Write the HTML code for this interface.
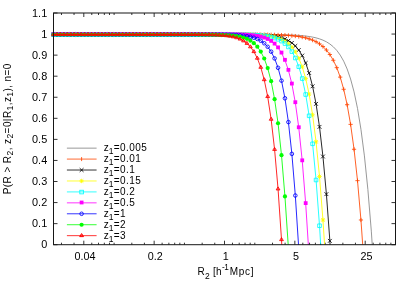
<!DOCTYPE html>
<html><head><meta charset="utf-8"><title>plot</title>
<style>html,body{margin:0;padding:0;background:#fff}svg{display:block}text{font-family:"Liberation Sans",sans-serif;font-size:10px;fill:#000}</style></head><body>
<svg style="will-change:transform" width="415" height="291" viewBox="0 0 415 291">
<rect width="415" height="291" fill="#fff"/>
<path d="M53.5 244.70h4.0M395.5 244.70h-4.0M53.5 223.64h4.0M395.5 223.64h-4.0M53.5 202.57h4.0M395.5 202.57h-4.0M53.5 181.51h4.0M395.5 181.51h-4.0M53.5 160.45h4.0M395.5 160.45h-4.0M53.5 139.38h4.0M395.5 139.38h-4.0M53.5 118.32h4.0M395.5 118.32h-4.0M53.5 97.25h4.0M395.5 97.25h-4.0M53.5 76.19h4.0M395.5 76.19h-4.0M53.5 55.13h4.0M395.5 55.13h-4.0M53.5 34.06h4.0M395.5 34.06h-4.0M53.5 13.00h4.0M395.5 13.00h-4.0M83.80 244.7v-4.0M83.80 13.0v4.0M154.15 244.7v-4.0M154.15 13.0v4.0M224.50 244.7v-4.0M224.50 13.0v4.0M294.85 244.7v-4.0M294.85 13.0v4.0M365.20 244.7v-4.0M365.20 13.0v4.0M61.47 244.7v-2.0M61.47 13.0v2.0M74.04 244.7v-2.0M74.04 13.0v2.0M91.77 244.7v-2.0M91.77 13.0v2.0M98.51 244.7v-2.0M98.51 13.0v2.0M104.34 244.7v-2.0M104.34 13.0v2.0M109.49 244.7v-2.0M109.49 13.0v2.0M114.10 244.7v-2.0M114.10 13.0v2.0M131.82 244.7v-2.0M131.82 13.0v2.0M144.40 244.7v-2.0M144.40 13.0v2.0M162.12 244.7v-2.0M162.12 13.0v2.0M168.86 244.7v-2.0M168.86 13.0v2.0M174.69 244.7v-2.0M174.69 13.0v2.0M179.84 244.7v-2.0M179.84 13.0v2.0M184.45 244.7v-2.0M184.45 13.0v2.0M202.17 244.7v-2.0M202.17 13.0v2.0M214.75 244.7v-2.0M214.75 13.0v2.0M232.47 244.7v-2.0M232.47 13.0v2.0M239.21 244.7v-2.0M239.21 13.0v2.0M245.04 244.7v-2.0M245.04 13.0v2.0M250.19 244.7v-2.0M250.19 13.0v2.0M254.80 244.7v-2.0M254.80 13.0v2.0M272.52 244.7v-2.0M272.52 13.0v2.0M285.10 244.7v-2.0M285.10 13.0v2.0M302.82 244.7v-2.0M302.82 13.0v2.0M309.56 244.7v-2.0M309.56 13.0v2.0M315.40 244.7v-2.0M315.40 13.0v2.0M320.54 244.7v-2.0M320.54 13.0v2.0M325.15 244.7v-2.0M325.15 13.0v2.0M342.87 244.7v-2.0M342.87 13.0v2.0M355.45 244.7v-2.0M355.45 13.0v2.0M373.17 244.7v-2.0M373.17 13.0v2.0M379.91 244.7v-2.0M379.91 13.0v2.0M385.75 244.7v-2.0M385.75 13.0v2.0M390.89 244.7v-2.0M390.89 13.0v2.0" stroke="#111" stroke-width="0.85" fill="none"/>
<text transform="translate(47.2 248.40) scale(1.09 1)" text-anchor="end" font-size="10.4">0</text>
<text transform="translate(47.2 227.34) scale(1.09 1)" text-anchor="end" font-size="10.4">0.1</text>
<text transform="translate(47.2 206.27) scale(1.09 1)" text-anchor="end" font-size="10.4">0.2</text>
<text transform="translate(47.2 185.21) scale(1.09 1)" text-anchor="end" font-size="10.4">0.3</text>
<text transform="translate(47.2 164.15) scale(1.09 1)" text-anchor="end" font-size="10.4">0.4</text>
<text transform="translate(47.2 143.08) scale(1.09 1)" text-anchor="end" font-size="10.4">0.5</text>
<text transform="translate(47.2 122.02) scale(1.09 1)" text-anchor="end" font-size="10.4">0.6</text>
<text transform="translate(47.2 100.95) scale(1.09 1)" text-anchor="end" font-size="10.4">0.7</text>
<text transform="translate(47.2 79.89) scale(1.09 1)" text-anchor="end" font-size="10.4">0.8</text>
<text transform="translate(47.2 58.83) scale(1.09 1)" text-anchor="end" font-size="10.4">0.9</text>
<text transform="translate(47.2 37.76) scale(1.09 1)" text-anchor="end" font-size="10.4">1</text>
<text transform="translate(47.2 16.70) scale(1.09 1)" text-anchor="end" font-size="10.4">1.1</text>
<text transform="translate(85.00 260.1) scale(1.08 1)" text-anchor="middle" font-size="10.4">0.04</text>
<text transform="translate(155.35 260.1) scale(1.08 1)" text-anchor="middle" font-size="10.4">0.2</text>
<text transform="translate(225.70 260.1) scale(1.08 1)" text-anchor="middle" font-size="10.4">1</text>
<text transform="translate(296.05 260.1) scale(1.08 1)" text-anchor="middle" font-size="10.4">5</text>
<text transform="translate(366.40 260.1) scale(1.08 1)" text-anchor="middle" font-size="10.4">25</text>
<text x="197.4" y="275.4" font-size="10.4" letter-spacing="0.3">R<tspan dy="3.7" font-size="8.5">2</tspan><tspan dy="-3.7"> [h</tspan><tspan dy="-5.1" font-size="8.2" letter-spacing="-0.5">-1</tspan><tspan dy="5.1" dx="1.4" letter-spacing="0.7">Mpc]</tspan></text>
<text transform="translate(10.6 194.3) rotate(-90)" font-size="10.4" letter-spacing="0.42">P(R &gt; R<tspan dy="2.8" font-size="8.5">2</tspan><tspan dy="-2.8">, z</tspan><tspan dy="2.8" font-size="8.5">2</tspan><tspan dy="-2.8">=0|R</tspan><tspan dy="2.8" font-size="8.5">1</tspan><tspan dy="-2.8">,z</tspan><tspan dy="2.8" font-size="8.5">1</tspan><tspan dy="-2.8">), n=0</tspan></text>
<clipPath id="c"><rect x="53.5" y="13.0" width="342.0" height="231.7"/></clipPath>
<g stroke-width="0.85" fill="none" stroke-linejoin="round">
<path d="M53.50 34.50L56.95 34.50L60.41 34.50L63.86 34.50L67.32 34.50L70.77 34.50L74.23 34.50L77.68 34.50L81.14 34.50L84.59 34.50L88.05 34.50L91.50 34.50L94.95 34.50L98.41 34.50L101.86 34.50L105.32 34.50L108.77 34.50L112.23 34.50L115.68 34.50L119.14 34.50L122.59 34.50L126.05 34.50L129.50 34.50L132.95 34.50L136.41 34.50L139.86 34.50L143.32 34.50L146.77 34.50L150.23 34.50L153.68 34.50L157.14 34.50L160.59 34.50L164.05 34.50L167.50 34.50L170.95 34.50L174.41 34.50L177.86 34.50L181.32 34.50L184.77 34.50L188.23 34.50L191.68 34.50L195.14 34.50L198.59 34.50L202.05 34.50L205.50 34.50L208.95 34.50L212.41 34.50L215.86 34.50L219.32 34.50L222.77 34.50L226.23 34.50L229.68 34.51L233.14 34.51L236.59 34.51L240.05 34.51L243.50 34.51L246.95 34.52L250.41 34.52L253.86 34.53L257.32 34.54L260.77 34.55L264.23 34.57L267.68 34.59L271.14 34.61L274.59 34.65L278.05 34.69L281.50 34.75L284.95 34.82L288.41 34.92L291.86 35.04L295.32 35.20L298.77 35.41L302.23 35.69L305.68 36.04L309.14 36.50L312.59 37.09L316.05 37.86L319.50 38.86L322.95 40.15L326.41 41.82L329.86 43.99L333.32 46.80L336.77 50.42L340.23 55.12L343.68 61.17L347.14 68.97L350.59 79.01L354.05 91.89L357.50 108.36L360.95 129.34L364.41 155.92L367.86 189.38L371.32 231.14L372.23 244.70" stroke="#8c8c8c" stroke-width="0.9"/>
<path d="M53.50 34.50L56.95 34.50L60.41 34.50L63.86 34.50L67.32 34.50L70.77 34.50L74.23 34.50L77.68 34.50L81.14 34.50L84.59 34.50L88.05 34.50L91.50 34.50L94.95 34.50L98.41 34.50L101.86 34.50L105.32 34.50L108.77 34.50L112.23 34.50L115.68 34.50L119.14 34.50L122.59 34.50L126.05 34.50L129.50 34.50L132.95 34.50L136.41 34.50L139.86 34.50L143.32 34.50L146.77 34.50L150.23 34.50L153.68 34.50L157.14 34.50L160.59 34.50L164.05 34.50L167.50 34.50L170.95 34.50L174.41 34.50L177.86 34.50L181.32 34.50L184.77 34.50L188.23 34.50L191.68 34.50L195.14 34.50L198.59 34.50L202.05 34.50L205.50 34.50L208.95 34.50L212.41 34.50L215.86 34.50L219.32 34.51L222.77 34.51L226.23 34.51L229.68 34.51L233.14 34.52L236.59 34.52L240.05 34.53L243.50 34.53L246.95 34.54L250.41 34.56L253.86 34.57L257.32 34.60L260.77 34.62L264.23 34.66L267.68 34.70L271.14 34.76L274.59 34.84L278.05 34.94L281.50 35.07L284.95 35.23L288.41 35.45L291.86 35.72L295.32 36.07L298.77 36.53L302.23 37.12L305.68 37.88L309.14 38.86L312.59 40.12L316.05 41.75L319.50 43.85L322.95 46.56L326.41 50.04L329.86 54.52L333.32 60.28L336.77 67.67L340.23 77.14L343.68 89.25L347.14 104.71L350.59 124.37L354.05 149.28L357.50 180.67L360.95 219.98L362.70 244.70" stroke="#ff4500" stroke-width="0.85"/>
<path d="M51.40 34.5H55.60M53.5 32.40V36.60" stroke="#ff4500" fill="none"/>
<path d="M54.85 34.5H59.05M56.95 32.40V36.60" stroke="#ff4500" fill="none"/>
<path d="M58.31 34.5H62.51M60.41 32.40V36.60" stroke="#ff4500" fill="none"/>
<path d="M61.76 34.5H65.96M63.86 32.40V36.60" stroke="#ff4500" fill="none"/>
<path d="M65.22 34.5H69.42M67.32 32.40V36.60" stroke="#ff4500" fill="none"/>
<path d="M68.67 34.5H72.87M70.77 32.40V36.60" stroke="#ff4500" fill="none"/>
<path d="M72.13 34.5H76.33M74.23 32.40V36.60" stroke="#ff4500" fill="none"/>
<path d="M75.58 34.5H79.78M77.68 32.40V36.60" stroke="#ff4500" fill="none"/>
<path d="M79.04 34.5H83.24M81.14 32.40V36.60" stroke="#ff4500" fill="none"/>
<path d="M82.49 34.5H86.69M84.59 32.40V36.60" stroke="#ff4500" fill="none"/>
<path d="M85.95 34.5H90.15M88.05 32.40V36.60" stroke="#ff4500" fill="none"/>
<path d="M89.40 34.5H93.60M91.5 32.40V36.60" stroke="#ff4500" fill="none"/>
<path d="M92.85 34.5H97.05M94.95 32.40V36.60" stroke="#ff4500" fill="none"/>
<path d="M96.31 34.5H100.51M98.41 32.40V36.60" stroke="#ff4500" fill="none"/>
<path d="M99.76 34.5H103.96M101.86 32.40V36.60" stroke="#ff4500" fill="none"/>
<path d="M103.22 34.5H107.42M105.32 32.40V36.60" stroke="#ff4500" fill="none"/>
<path d="M106.67 34.5H110.87M108.77 32.40V36.60" stroke="#ff4500" fill="none"/>
<path d="M110.13 34.5H114.33M112.23 32.40V36.60" stroke="#ff4500" fill="none"/>
<path d="M113.58 34.5H117.78M115.68 32.40V36.60" stroke="#ff4500" fill="none"/>
<path d="M117.04 34.5H121.24M119.14 32.40V36.60" stroke="#ff4500" fill="none"/>
<path d="M120.49 34.5H124.69M122.59 32.40V36.60" stroke="#ff4500" fill="none"/>
<path d="M123.95 34.5H128.15M126.05 32.40V36.60" stroke="#ff4500" fill="none"/>
<path d="M127.40 34.5H131.60M129.5 32.40V36.60" stroke="#ff4500" fill="none"/>
<path d="M130.85 34.5H135.05M132.95 32.40V36.60" stroke="#ff4500" fill="none"/>
<path d="M134.31 34.5H138.51M136.41 32.40V36.60" stroke="#ff4500" fill="none"/>
<path d="M137.76 34.5H141.96M139.86 32.40V36.60" stroke="#ff4500" fill="none"/>
<path d="M141.22 34.5H145.42M143.32 32.40V36.60" stroke="#ff4500" fill="none"/>
<path d="M144.67 34.5H148.87M146.77 32.40V36.60" stroke="#ff4500" fill="none"/>
<path d="M148.13 34.5H152.33M150.23 32.40V36.60" stroke="#ff4500" fill="none"/>
<path d="M151.58 34.5H155.78M153.68 32.40V36.60" stroke="#ff4500" fill="none"/>
<path d="M155.04 34.5H159.24M157.14 32.40V36.60" stroke="#ff4500" fill="none"/>
<path d="M158.49 34.5H162.69M160.59 32.40V36.60" stroke="#ff4500" fill="none"/>
<path d="M161.95 34.5H166.15M164.05 32.40V36.60" stroke="#ff4500" fill="none"/>
<path d="M165.40 34.5H169.60M167.5 32.40V36.60" stroke="#ff4500" fill="none"/>
<path d="M168.85 34.5H173.05M170.95 32.40V36.60" stroke="#ff4500" fill="none"/>
<path d="M172.31 34.5H176.51M174.41 32.40V36.60" stroke="#ff4500" fill="none"/>
<path d="M175.76 34.5H179.96M177.86 32.40V36.60" stroke="#ff4500" fill="none"/>
<path d="M179.22 34.5H183.42M181.32 32.40V36.60" stroke="#ff4500" fill="none"/>
<path d="M182.67 34.5H186.87M184.77 32.40V36.60" stroke="#ff4500" fill="none"/>
<path d="M186.13 34.5H190.33M188.23 32.40V36.60" stroke="#ff4500" fill="none"/>
<path d="M189.58 34.5H193.78M191.68 32.40V36.60" stroke="#ff4500" fill="none"/>
<path d="M193.04 34.5H197.24M195.14 32.40V36.60" stroke="#ff4500" fill="none"/>
<path d="M196.49 34.5H200.69M198.59 32.40V36.60" stroke="#ff4500" fill="none"/>
<path d="M199.95 34.5H204.15M202.05 32.40V36.60" stroke="#ff4500" fill="none"/>
<path d="M203.40 34.5H207.60M205.5 32.40V36.60" stroke="#ff4500" fill="none"/>
<path d="M206.85 34.5H211.05M208.95 32.40V36.60" stroke="#ff4500" fill="none"/>
<path d="M210.31 34.5H214.51M212.41 32.40V36.60" stroke="#ff4500" fill="none"/>
<path d="M213.76 34.5H217.96M215.86 32.40V36.60" stroke="#ff4500" fill="none"/>
<path d="M217.22 34.51H221.42M219.32 32.41V36.61" stroke="#ff4500" fill="none"/>
<path d="M220.67 34.51H224.87M222.77 32.41V36.61" stroke="#ff4500" fill="none"/>
<path d="M224.13 34.51H228.33M226.23 32.41V36.61" stroke="#ff4500" fill="none"/>
<path d="M227.58 34.51H231.78M229.68 32.41V36.61" stroke="#ff4500" fill="none"/>
<path d="M231.04 34.52H235.24M233.14 32.42V36.62" stroke="#ff4500" fill="none"/>
<path d="M234.49 34.52H238.69M236.59 32.42V36.62" stroke="#ff4500" fill="none"/>
<path d="M237.95 34.53H242.15M240.05 32.43V36.63" stroke="#ff4500" fill="none"/>
<path d="M241.40 34.53H245.60M243.5 32.43V36.63" stroke="#ff4500" fill="none"/>
<path d="M244.85 34.54H249.05M246.95 32.44V36.64" stroke="#ff4500" fill="none"/>
<path d="M248.31 34.56H252.51M250.41 32.46V36.66" stroke="#ff4500" fill="none"/>
<path d="M251.76 34.57H255.96M253.86 32.47V36.67" stroke="#ff4500" fill="none"/>
<path d="M255.22 34.6H259.42M257.32 32.50V36.70" stroke="#ff4500" fill="none"/>
<path d="M258.67 34.62H262.87M260.77 32.52V36.72" stroke="#ff4500" fill="none"/>
<path d="M262.13 34.66H266.33M264.23 32.56V36.76" stroke="#ff4500" fill="none"/>
<path d="M265.58 34.7H269.78M267.68 32.60V36.80" stroke="#ff4500" fill="none"/>
<path d="M269.04 34.76H273.24M271.14 32.66V36.86" stroke="#ff4500" fill="none"/>
<path d="M272.49 34.84H276.69M274.59 32.74V36.94" stroke="#ff4500" fill="none"/>
<path d="M275.95 34.94H280.15M278.05 32.84V37.04" stroke="#ff4500" fill="none"/>
<path d="M279.40 35.07H283.60M281.5 32.97V37.17" stroke="#ff4500" fill="none"/>
<path d="M282.85 35.23H287.05M284.95 33.13V37.33" stroke="#ff4500" fill="none"/>
<path d="M286.31 35.45H290.51M288.41 33.35V37.55" stroke="#ff4500" fill="none"/>
<path d="M289.76 35.72H293.96M291.86 33.62V37.82" stroke="#ff4500" fill="none"/>
<path d="M293.22 36.07H297.42M295.32 33.97V38.17" stroke="#ff4500" fill="none"/>
<path d="M296.67 36.53H300.87M298.77 34.43V38.63" stroke="#ff4500" fill="none"/>
<path d="M300.13 37.12H304.33M302.23 35.02V39.22" stroke="#ff4500" fill="none"/>
<path d="M303.58 37.88H307.78M305.68 35.78V39.98" stroke="#ff4500" fill="none"/>
<path d="M307.04 38.86H311.24M309.14 36.76V40.96" stroke="#ff4500" fill="none"/>
<path d="M310.49 40.12H314.69M312.59 38.02V42.22" stroke="#ff4500" fill="none"/>
<path d="M313.95 41.75H318.15M316.05 39.65V43.85" stroke="#ff4500" fill="none"/>
<path d="M317.40 43.85H321.60M319.5 41.75V45.95" stroke="#ff4500" fill="none"/>
<path d="M320.85 46.56H325.05M322.95 44.46V48.66" stroke="#ff4500" fill="none"/>
<path d="M324.31 50.04H328.51M326.41 47.94V52.14" stroke="#ff4500" fill="none"/>
<path d="M327.76 54.52H331.96M329.86 52.42V56.62" stroke="#ff4500" fill="none"/>
<path d="M331.22 60.28H335.42M333.32 58.18V62.38" stroke="#ff4500" fill="none"/>
<path d="M334.67 67.67H338.87M336.77 65.57V69.77" stroke="#ff4500" fill="none"/>
<path d="M338.13 77.14H342.33M340.23 75.04V79.24" stroke="#ff4500" fill="none"/>
<path d="M341.58 89.25H345.78M343.68 87.15V91.35" stroke="#ff4500" fill="none"/>
<path d="M345.04 104.71H349.24M347.14 102.61V106.81" stroke="#ff4500" fill="none"/>
<path d="M348.49 124.37H352.69M350.59 122.27V126.47" stroke="#ff4500" fill="none"/>
<path d="M351.95 149.28H356.15M354.05 147.18V151.38" stroke="#ff4500" fill="none"/>
<path d="M355.40 180.67H359.60M357.5 178.57V182.77" stroke="#ff4500" fill="none"/>
<path d="M358.85 219.98H363.05M360.95 217.88V222.08" stroke="#ff4500" fill="none"/>
<path d="M53.50 34.50L56.95 34.50L60.41 34.50L63.86 34.50L67.32 34.50L70.77 34.50L74.23 34.50L77.68 34.50L81.14 34.50L84.59 34.50L88.05 34.50L91.50 34.50L94.95 34.50L98.41 34.50L101.86 34.50L105.32 34.50L108.77 34.50L112.23 34.50L115.68 34.50L119.14 34.50L122.59 34.50L126.05 34.50L129.50 34.50L132.95 34.50L136.41 34.50L139.86 34.50L143.32 34.50L146.77 34.50L150.23 34.50L153.68 34.50L157.14 34.50L160.59 34.50L164.05 34.50L167.50 34.50L170.95 34.50L174.41 34.50L177.86 34.50L181.32 34.50L184.77 34.50L188.23 34.50L191.68 34.50L195.14 34.50L198.59 34.50L202.05 34.50L205.50 34.50L208.95 34.51L212.41 34.51L215.86 34.51L219.32 34.51L222.77 34.52L226.23 34.52L229.68 34.53L233.14 34.54L236.59 34.56L240.05 34.58L243.50 34.61L246.95 34.65L250.41 34.71L253.86 34.78L257.32 34.88L260.77 35.02L264.23 35.21L267.68 35.47L271.14 35.82L274.59 36.30L278.05 36.96L281.50 37.84L284.95 39.05L288.41 40.70L291.86 42.93L295.32 45.95L298.77 50.05L302.23 55.58L305.68 63.03L309.14 73.00L312.59 86.30L316.05 103.87L319.50 126.86L322.95 156.52L326.41 194.15L329.86 240.84L330.10 244.70" stroke="#000000" stroke-width="0.85"/>
<path d="M51.60 32.60L55.40 36.40M51.60 36.40L55.40 32.60" stroke="#000000" fill="none"/>
<path d="M55.05 32.60L58.85 36.40M55.05 36.40L58.85 32.60" stroke="#000000" fill="none"/>
<path d="M58.51 32.60L62.31 36.40M58.51 36.40L62.31 32.60" stroke="#000000" fill="none"/>
<path d="M61.96 32.60L65.76 36.40M61.96 36.40L65.76 32.60" stroke="#000000" fill="none"/>
<path d="M65.42 32.60L69.22 36.40M65.42 36.40L69.22 32.60" stroke="#000000" fill="none"/>
<path d="M68.87 32.60L72.67 36.40M68.87 36.40L72.67 32.60" stroke="#000000" fill="none"/>
<path d="M72.33 32.60L76.13 36.40M72.33 36.40L76.13 32.60" stroke="#000000" fill="none"/>
<path d="M75.78 32.60L79.58 36.40M75.78 36.40L79.58 32.60" stroke="#000000" fill="none"/>
<path d="M79.24 32.60L83.04 36.40M79.24 36.40L83.04 32.60" stroke="#000000" fill="none"/>
<path d="M82.69 32.60L86.49 36.40M82.69 36.40L86.49 32.60" stroke="#000000" fill="none"/>
<path d="M86.15 32.60L89.95 36.40M86.15 36.40L89.95 32.60" stroke="#000000" fill="none"/>
<path d="M89.60 32.60L93.40 36.40M89.60 36.40L93.40 32.60" stroke="#000000" fill="none"/>
<path d="M93.05 32.60L96.85 36.40M93.05 36.40L96.85 32.60" stroke="#000000" fill="none"/>
<path d="M96.51 32.60L100.31 36.40M96.51 36.40L100.31 32.60" stroke="#000000" fill="none"/>
<path d="M99.96 32.60L103.76 36.40M99.96 36.40L103.76 32.60" stroke="#000000" fill="none"/>
<path d="M103.42 32.60L107.22 36.40M103.42 36.40L107.22 32.60" stroke="#000000" fill="none"/>
<path d="M106.87 32.60L110.67 36.40M106.87 36.40L110.67 32.60" stroke="#000000" fill="none"/>
<path d="M110.33 32.60L114.13 36.40M110.33 36.40L114.13 32.60" stroke="#000000" fill="none"/>
<path d="M113.78 32.60L117.58 36.40M113.78 36.40L117.58 32.60" stroke="#000000" fill="none"/>
<path d="M117.24 32.60L121.04 36.40M117.24 36.40L121.04 32.60" stroke="#000000" fill="none"/>
<path d="M120.69 32.60L124.49 36.40M120.69 36.40L124.49 32.60" stroke="#000000" fill="none"/>
<path d="M124.15 32.60L127.95 36.40M124.15 36.40L127.95 32.60" stroke="#000000" fill="none"/>
<path d="M127.60 32.60L131.40 36.40M127.60 36.40L131.40 32.60" stroke="#000000" fill="none"/>
<path d="M131.05 32.60L134.85 36.40M131.05 36.40L134.85 32.60" stroke="#000000" fill="none"/>
<path d="M134.51 32.60L138.31 36.40M134.51 36.40L138.31 32.60" stroke="#000000" fill="none"/>
<path d="M137.96 32.60L141.76 36.40M137.96 36.40L141.76 32.60" stroke="#000000" fill="none"/>
<path d="M141.42 32.60L145.22 36.40M141.42 36.40L145.22 32.60" stroke="#000000" fill="none"/>
<path d="M144.87 32.60L148.67 36.40M144.87 36.40L148.67 32.60" stroke="#000000" fill="none"/>
<path d="M148.33 32.60L152.13 36.40M148.33 36.40L152.13 32.60" stroke="#000000" fill="none"/>
<path d="M151.78 32.60L155.58 36.40M151.78 36.40L155.58 32.60" stroke="#000000" fill="none"/>
<path d="M155.24 32.60L159.04 36.40M155.24 36.40L159.04 32.60" stroke="#000000" fill="none"/>
<path d="M158.69 32.60L162.49 36.40M158.69 36.40L162.49 32.60" stroke="#000000" fill="none"/>
<path d="M162.15 32.60L165.95 36.40M162.15 36.40L165.95 32.60" stroke="#000000" fill="none"/>
<path d="M165.60 32.60L169.40 36.40M165.60 36.40L169.40 32.60" stroke="#000000" fill="none"/>
<path d="M169.05 32.60L172.85 36.40M169.05 36.40L172.85 32.60" stroke="#000000" fill="none"/>
<path d="M172.51 32.60L176.31 36.40M172.51 36.40L176.31 32.60" stroke="#000000" fill="none"/>
<path d="M175.96 32.60L179.76 36.40M175.96 36.40L179.76 32.60" stroke="#000000" fill="none"/>
<path d="M179.42 32.60L183.22 36.40M179.42 36.40L183.22 32.60" stroke="#000000" fill="none"/>
<path d="M182.87 32.60L186.67 36.40M182.87 36.40L186.67 32.60" stroke="#000000" fill="none"/>
<path d="M186.33 32.60L190.13 36.40M186.33 36.40L190.13 32.60" stroke="#000000" fill="none"/>
<path d="M189.78 32.60L193.58 36.40M189.78 36.40L193.58 32.60" stroke="#000000" fill="none"/>
<path d="M193.24 32.60L197.04 36.40M193.24 36.40L197.04 32.60" stroke="#000000" fill="none"/>
<path d="M196.69 32.60L200.49 36.40M196.69 36.40L200.49 32.60" stroke="#000000" fill="none"/>
<path d="M200.15 32.60L203.95 36.40M200.15 36.40L203.95 32.60" stroke="#000000" fill="none"/>
<path d="M203.60 32.60L207.40 36.40M203.60 36.40L207.40 32.60" stroke="#000000" fill="none"/>
<path d="M207.05 32.61L210.85 36.41M207.05 36.41L210.85 32.61" stroke="#000000" fill="none"/>
<path d="M210.51 32.61L214.31 36.41M210.51 36.41L214.31 32.61" stroke="#000000" fill="none"/>
<path d="M213.96 32.61L217.76 36.41M213.96 36.41L217.76 32.61" stroke="#000000" fill="none"/>
<path d="M217.42 32.61L221.22 36.41M217.42 36.41L221.22 32.61" stroke="#000000" fill="none"/>
<path d="M220.87 32.62L224.67 36.42M220.87 36.42L224.67 32.62" stroke="#000000" fill="none"/>
<path d="M224.33 32.62L228.13 36.42M224.33 36.42L228.13 32.62" stroke="#000000" fill="none"/>
<path d="M227.78 32.63L231.58 36.43M227.78 36.43L231.58 32.63" stroke="#000000" fill="none"/>
<path d="M231.24 32.64L235.04 36.44M231.24 36.44L235.04 32.64" stroke="#000000" fill="none"/>
<path d="M234.69 32.66L238.49 36.46M234.69 36.46L238.49 32.66" stroke="#000000" fill="none"/>
<path d="M238.15 32.68L241.95 36.48M238.15 36.48L241.95 32.68" stroke="#000000" fill="none"/>
<path d="M241.60 32.71L245.40 36.51M241.60 36.51L245.40 32.71" stroke="#000000" fill="none"/>
<path d="M245.05 32.75L248.85 36.55M245.05 36.55L248.85 32.75" stroke="#000000" fill="none"/>
<path d="M248.51 32.81L252.31 36.61M248.51 36.61L252.31 32.81" stroke="#000000" fill="none"/>
<path d="M251.96 32.88L255.76 36.68M251.96 36.68L255.76 32.88" stroke="#000000" fill="none"/>
<path d="M255.42 32.98L259.22 36.78M255.42 36.78L259.22 32.98" stroke="#000000" fill="none"/>
<path d="M258.87 33.12L262.67 36.92M258.87 36.92L262.67 33.12" stroke="#000000" fill="none"/>
<path d="M262.33 33.31L266.13 37.11M262.33 37.11L266.13 33.31" stroke="#000000" fill="none"/>
<path d="M265.78 33.57L269.58 37.37M265.78 37.37L269.58 33.57" stroke="#000000" fill="none"/>
<path d="M269.24 33.92L273.04 37.72M269.24 37.72L273.04 33.92" stroke="#000000" fill="none"/>
<path d="M272.69 34.40L276.49 38.20M272.69 38.20L276.49 34.40" stroke="#000000" fill="none"/>
<path d="M276.15 35.06L279.95 38.86M276.15 38.86L279.95 35.06" stroke="#000000" fill="none"/>
<path d="M279.60 35.94L283.40 39.74M279.60 39.74L283.40 35.94" stroke="#000000" fill="none"/>
<path d="M283.05 37.15L286.85 40.95M283.05 40.95L286.85 37.15" stroke="#000000" fill="none"/>
<path d="M286.51 38.80L290.31 42.60M286.51 42.60L290.31 38.80" stroke="#000000" fill="none"/>
<path d="M289.96 41.03L293.76 44.83M289.96 44.83L293.76 41.03" stroke="#000000" fill="none"/>
<path d="M293.42 44.05L297.22 47.85M293.42 47.85L297.22 44.05" stroke="#000000" fill="none"/>
<path d="M296.87 48.15L300.67 51.95M296.87 51.95L300.67 48.15" stroke="#000000" fill="none"/>
<path d="M300.33 53.68L304.13 57.48M300.33 57.48L304.13 53.68" stroke="#000000" fill="none"/>
<path d="M303.78 61.13L307.58 64.93M303.78 64.93L307.58 61.13" stroke="#000000" fill="none"/>
<path d="M307.24 71.10L311.04 74.90M307.24 74.90L311.04 71.10" stroke="#000000" fill="none"/>
<path d="M310.69 84.40L314.49 88.20M310.69 88.20L314.49 84.40" stroke="#000000" fill="none"/>
<path d="M314.15 101.97L317.95 105.77M314.15 105.77L317.95 101.97" stroke="#000000" fill="none"/>
<path d="M317.60 124.96L321.40 128.76M317.60 128.76L321.40 124.96" stroke="#000000" fill="none"/>
<path d="M321.05 154.62L324.85 158.42M321.05 158.42L324.85 154.62" stroke="#000000" fill="none"/>
<path d="M324.51 192.25L328.31 196.05M324.51 196.05L328.31 192.25" stroke="#000000" fill="none"/>
<path d="M327.96 238.94L331.76 242.74M327.96 242.74L331.76 238.94" stroke="#000000" fill="none"/>
<path d="M53.50 34.50L56.95 34.50L60.41 34.50L63.86 34.50L67.32 34.50L70.77 34.50L74.23 34.50L77.68 34.50L81.14 34.50L84.59 34.50L88.05 34.50L91.50 34.50L94.95 34.50L98.41 34.50L101.86 34.50L105.32 34.50L108.77 34.50L112.23 34.50L115.68 34.50L119.14 34.50L122.59 34.50L126.05 34.50L129.50 34.50L132.95 34.50L136.41 34.50L139.86 34.50L143.32 34.50L146.77 34.50L150.23 34.50L153.68 34.50L157.14 34.50L160.59 34.50L164.05 34.50L167.50 34.50L170.95 34.50L174.41 34.50L177.86 34.50L181.32 34.50L184.77 34.50L188.23 34.50L191.68 34.50L195.14 34.50L198.59 34.50L202.05 34.50L205.50 34.50L208.95 34.51L212.41 34.51L215.86 34.51L219.32 34.52L222.77 34.52L226.23 34.53L229.68 34.54L233.14 34.55L236.59 34.58L240.05 34.60L243.50 34.64L246.95 34.70L250.41 34.77L253.86 34.87L257.32 35.02L260.77 35.21L264.23 35.48L267.68 35.85L271.14 36.36L274.59 37.06L278.05 38.03L281.50 39.36L284.95 41.18L288.41 43.68L291.86 47.11L295.32 51.80L298.77 58.18L302.23 66.84L305.68 78.52L309.14 94.14L312.59 114.83L316.05 141.85L319.50 176.51L322.95 219.93L324.57 244.70" stroke="#ffff00" stroke-width="0.85"/>
<path d="M51.30 34.5H55.70M53.5 32.30V36.70M51.80 32.80L55.20 36.20M51.80 36.20L55.20 32.80" stroke="#ffff00" fill="none"/>
<path d="M54.75 34.5H59.15M56.95 32.30V36.70M55.25 32.80L58.65 36.20M55.25 36.20L58.65 32.80" stroke="#ffff00" fill="none"/>
<path d="M58.21 34.5H62.61M60.41 32.30V36.70M58.71 32.80L62.11 36.20M58.71 36.20L62.11 32.80" stroke="#ffff00" fill="none"/>
<path d="M61.66 34.5H66.06M63.86 32.30V36.70M62.16 32.80L65.56 36.20M62.16 36.20L65.56 32.80" stroke="#ffff00" fill="none"/>
<path d="M65.12 34.5H69.52M67.32 32.30V36.70M65.62 32.80L69.02 36.20M65.62 36.20L69.02 32.80" stroke="#ffff00" fill="none"/>
<path d="M68.57 34.5H72.97M70.77 32.30V36.70M69.07 32.80L72.47 36.20M69.07 36.20L72.47 32.80" stroke="#ffff00" fill="none"/>
<path d="M72.03 34.5H76.43M74.23 32.30V36.70M72.53 32.80L75.93 36.20M72.53 36.20L75.93 32.80" stroke="#ffff00" fill="none"/>
<path d="M75.48 34.5H79.88M77.68 32.30V36.70M75.98 32.80L79.38 36.20M75.98 36.20L79.38 32.80" stroke="#ffff00" fill="none"/>
<path d="M78.94 34.5H83.34M81.14 32.30V36.70M79.44 32.80L82.84 36.20M79.44 36.20L82.84 32.80" stroke="#ffff00" fill="none"/>
<path d="M82.39 34.5H86.79M84.59 32.30V36.70M82.89 32.80L86.29 36.20M82.89 36.20L86.29 32.80" stroke="#ffff00" fill="none"/>
<path d="M85.85 34.5H90.25M88.05 32.30V36.70M86.35 32.80L89.75 36.20M86.35 36.20L89.75 32.80" stroke="#ffff00" fill="none"/>
<path d="M89.30 34.5H93.70M91.5 32.30V36.70M89.80 32.80L93.20 36.20M89.80 36.20L93.20 32.80" stroke="#ffff00" fill="none"/>
<path d="M92.75 34.5H97.15M94.95 32.30V36.70M93.25 32.80L96.65 36.20M93.25 36.20L96.65 32.80" stroke="#ffff00" fill="none"/>
<path d="M96.21 34.5H100.61M98.41 32.30V36.70M96.71 32.80L100.11 36.20M96.71 36.20L100.11 32.80" stroke="#ffff00" fill="none"/>
<path d="M99.66 34.5H104.06M101.86 32.30V36.70M100.16 32.80L103.56 36.20M100.16 36.20L103.56 32.80" stroke="#ffff00" fill="none"/>
<path d="M103.12 34.5H107.52M105.32 32.30V36.70M103.62 32.80L107.02 36.20M103.62 36.20L107.02 32.80" stroke="#ffff00" fill="none"/>
<path d="M106.57 34.5H110.97M108.77 32.30V36.70M107.07 32.80L110.47 36.20M107.07 36.20L110.47 32.80" stroke="#ffff00" fill="none"/>
<path d="M110.03 34.5H114.43M112.23 32.30V36.70M110.53 32.80L113.93 36.20M110.53 36.20L113.93 32.80" stroke="#ffff00" fill="none"/>
<path d="M113.48 34.5H117.88M115.68 32.30V36.70M113.98 32.80L117.38 36.20M113.98 36.20L117.38 32.80" stroke="#ffff00" fill="none"/>
<path d="M116.94 34.5H121.34M119.14 32.30V36.70M117.44 32.80L120.84 36.20M117.44 36.20L120.84 32.80" stroke="#ffff00" fill="none"/>
<path d="M120.39 34.5H124.79M122.59 32.30V36.70M120.89 32.80L124.29 36.20M120.89 36.20L124.29 32.80" stroke="#ffff00" fill="none"/>
<path d="M123.85 34.5H128.25M126.05 32.30V36.70M124.35 32.80L127.75 36.20M124.35 36.20L127.75 32.80" stroke="#ffff00" fill="none"/>
<path d="M127.30 34.5H131.70M129.5 32.30V36.70M127.80 32.80L131.20 36.20M127.80 36.20L131.20 32.80" stroke="#ffff00" fill="none"/>
<path d="M130.75 34.5H135.15M132.95 32.30V36.70M131.25 32.80L134.65 36.20M131.25 36.20L134.65 32.80" stroke="#ffff00" fill="none"/>
<path d="M134.21 34.5H138.61M136.41 32.30V36.70M134.71 32.80L138.11 36.20M134.71 36.20L138.11 32.80" stroke="#ffff00" fill="none"/>
<path d="M137.66 34.5H142.06M139.86 32.30V36.70M138.16 32.80L141.56 36.20M138.16 36.20L141.56 32.80" stroke="#ffff00" fill="none"/>
<path d="M141.12 34.5H145.52M143.32 32.30V36.70M141.62 32.80L145.02 36.20M141.62 36.20L145.02 32.80" stroke="#ffff00" fill="none"/>
<path d="M144.57 34.5H148.97M146.77 32.30V36.70M145.07 32.80L148.47 36.20M145.07 36.20L148.47 32.80" stroke="#ffff00" fill="none"/>
<path d="M148.03 34.5H152.43M150.23 32.30V36.70M148.53 32.80L151.93 36.20M148.53 36.20L151.93 32.80" stroke="#ffff00" fill="none"/>
<path d="M151.48 34.5H155.88M153.68 32.30V36.70M151.98 32.80L155.38 36.20M151.98 36.20L155.38 32.80" stroke="#ffff00" fill="none"/>
<path d="M154.94 34.5H159.34M157.14 32.30V36.70M155.44 32.80L158.84 36.20M155.44 36.20L158.84 32.80" stroke="#ffff00" fill="none"/>
<path d="M158.39 34.5H162.79M160.59 32.30V36.70M158.89 32.80L162.29 36.20M158.89 36.20L162.29 32.80" stroke="#ffff00" fill="none"/>
<path d="M161.85 34.5H166.25M164.05 32.30V36.70M162.35 32.80L165.75 36.20M162.35 36.20L165.75 32.80" stroke="#ffff00" fill="none"/>
<path d="M165.30 34.5H169.70M167.5 32.30V36.70M165.80 32.80L169.20 36.20M165.80 36.20L169.20 32.80" stroke="#ffff00" fill="none"/>
<path d="M168.75 34.5H173.15M170.95 32.30V36.70M169.25 32.80L172.65 36.20M169.25 36.20L172.65 32.80" stroke="#ffff00" fill="none"/>
<path d="M172.21 34.5H176.61M174.41 32.30V36.70M172.71 32.80L176.11 36.20M172.71 36.20L176.11 32.80" stroke="#ffff00" fill="none"/>
<path d="M175.66 34.5H180.06M177.86 32.30V36.70M176.16 32.80L179.56 36.20M176.16 36.20L179.56 32.80" stroke="#ffff00" fill="none"/>
<path d="M179.12 34.5H183.52M181.32 32.30V36.70M179.62 32.80L183.02 36.20M179.62 36.20L183.02 32.80" stroke="#ffff00" fill="none"/>
<path d="M182.57 34.5H186.97M184.77 32.30V36.70M183.07 32.80L186.47 36.20M183.07 36.20L186.47 32.80" stroke="#ffff00" fill="none"/>
<path d="M186.03 34.5H190.43M188.23 32.30V36.70M186.53 32.80L189.93 36.20M186.53 36.20L189.93 32.80" stroke="#ffff00" fill="none"/>
<path d="M189.48 34.5H193.88M191.68 32.30V36.70M189.98 32.80L193.38 36.20M189.98 36.20L193.38 32.80" stroke="#ffff00" fill="none"/>
<path d="M192.94 34.5H197.34M195.14 32.30V36.70M193.44 32.80L196.84 36.20M193.44 36.20L196.84 32.80" stroke="#ffff00" fill="none"/>
<path d="M196.39 34.5H200.79M198.59 32.30V36.70M196.89 32.80L200.29 36.20M196.89 36.20L200.29 32.80" stroke="#ffff00" fill="none"/>
<path d="M199.85 34.5H204.25M202.05 32.30V36.70M200.35 32.80L203.75 36.20M200.35 36.20L203.75 32.80" stroke="#ffff00" fill="none"/>
<path d="M203.30 34.5H207.70M205.5 32.30V36.70M203.80 32.80L207.20 36.20M203.80 36.20L207.20 32.80" stroke="#ffff00" fill="none"/>
<path d="M206.75 34.51H211.15M208.95 32.31V36.71M207.25 32.81L210.65 36.21M207.25 36.21L210.65 32.81" stroke="#ffff00" fill="none"/>
<path d="M210.21 34.51H214.61M212.41 32.31V36.71M210.71 32.81L214.11 36.21M210.71 36.21L214.11 32.81" stroke="#ffff00" fill="none"/>
<path d="M213.66 34.51H218.06M215.86 32.31V36.71M214.16 32.81L217.56 36.21M214.16 36.21L217.56 32.81" stroke="#ffff00" fill="none"/>
<path d="M217.12 34.52H221.52M219.32 32.32V36.72M217.62 32.82L221.02 36.22M217.62 36.22L221.02 32.82" stroke="#ffff00" fill="none"/>
<path d="M220.57 34.52H224.97M222.77 32.32V36.72M221.07 32.82L224.47 36.22M221.07 36.22L224.47 32.82" stroke="#ffff00" fill="none"/>
<path d="M224.03 34.53H228.43M226.23 32.33V36.73M224.53 32.83L227.93 36.23M224.53 36.23L227.93 32.83" stroke="#ffff00" fill="none"/>
<path d="M227.48 34.54H231.88M229.68 32.34V36.74M227.98 32.84L231.38 36.24M227.98 36.24L231.38 32.84" stroke="#ffff00" fill="none"/>
<path d="M230.94 34.55H235.34M233.14 32.35V36.75M231.44 32.85L234.84 36.25M231.44 36.25L234.84 32.85" stroke="#ffff00" fill="none"/>
<path d="M234.39 34.58H238.79M236.59 32.38V36.78M234.89 32.88L238.29 36.28M234.89 36.28L238.29 32.88" stroke="#ffff00" fill="none"/>
<path d="M237.85 34.6H242.25M240.05 32.40V36.80M238.35 32.90L241.75 36.30M238.35 36.30L241.75 32.90" stroke="#ffff00" fill="none"/>
<path d="M241.30 34.64H245.70M243.5 32.44V36.84M241.80 32.94L245.20 36.34M241.80 36.34L245.20 32.94" stroke="#ffff00" fill="none"/>
<path d="M244.75 34.7H249.15M246.95 32.50V36.90M245.25 33.00L248.65 36.40M245.25 36.40L248.65 33.00" stroke="#ffff00" fill="none"/>
<path d="M248.21 34.77H252.61M250.41 32.57V36.97M248.71 33.07L252.11 36.47M248.71 36.47L252.11 33.07" stroke="#ffff00" fill="none"/>
<path d="M251.66 34.87H256.06M253.86 32.67V37.07M252.16 33.17L255.56 36.57M252.16 36.57L255.56 33.17" stroke="#ffff00" fill="none"/>
<path d="M255.12 35.02H259.52M257.32 32.82V37.22M255.62 33.32L259.02 36.72M255.62 36.72L259.02 33.32" stroke="#ffff00" fill="none"/>
<path d="M258.57 35.21H262.97M260.77 33.01V37.41M259.07 33.51L262.47 36.91M259.07 36.91L262.47 33.51" stroke="#ffff00" fill="none"/>
<path d="M262.03 35.48H266.43M264.23 33.28V37.68M262.53 33.78L265.93 37.18M262.53 37.18L265.93 33.78" stroke="#ffff00" fill="none"/>
<path d="M265.48 35.85H269.88M267.68 33.65V38.05M265.98 34.15L269.38 37.55M265.98 37.55L269.38 34.15" stroke="#ffff00" fill="none"/>
<path d="M268.94 36.36H273.34M271.14 34.16V38.56M269.44 34.66L272.84 38.06M269.44 38.06L272.84 34.66" stroke="#ffff00" fill="none"/>
<path d="M272.39 37.06H276.79M274.59 34.86V39.26M272.89 35.36L276.29 38.76M272.89 38.76L276.29 35.36" stroke="#ffff00" fill="none"/>
<path d="M275.85 38.03H280.25M278.05 35.83V40.23M276.35 36.33L279.75 39.73M276.35 39.73L279.75 36.33" stroke="#ffff00" fill="none"/>
<path d="M279.30 39.36H283.70M281.5 37.16V41.56M279.80 37.66L283.20 41.06M279.80 41.06L283.20 37.66" stroke="#ffff00" fill="none"/>
<path d="M282.75 41.18H287.15M284.95 38.98V43.38M283.25 39.48L286.65 42.88M283.25 42.88L286.65 39.48" stroke="#ffff00" fill="none"/>
<path d="M286.21 43.68H290.61M288.41 41.48V45.88M286.71 41.98L290.11 45.38M286.71 45.38L290.11 41.98" stroke="#ffff00" fill="none"/>
<path d="M289.66 47.11H294.06M291.86 44.91V49.31M290.16 45.41L293.56 48.81M290.16 48.81L293.56 45.41" stroke="#ffff00" fill="none"/>
<path d="M293.12 51.8H297.52M295.32 49.60V54.00M293.62 50.10L297.02 53.50M293.62 53.50L297.02 50.10" stroke="#ffff00" fill="none"/>
<path d="M296.57 58.18H300.97M298.77 55.98V60.38M297.07 56.48L300.47 59.88M297.07 59.88L300.47 56.48" stroke="#ffff00" fill="none"/>
<path d="M300.03 66.84H304.43M302.23 64.64V69.04M300.53 65.14L303.93 68.54M300.53 68.54L303.93 65.14" stroke="#ffff00" fill="none"/>
<path d="M303.48 78.52H307.88M305.68 76.32V80.72M303.98 76.82L307.38 80.22M303.98 80.22L307.38 76.82" stroke="#ffff00" fill="none"/>
<path d="M306.94 94.14H311.34M309.14 91.94V96.34M307.44 92.44L310.84 95.84M307.44 95.84L310.84 92.44" stroke="#ffff00" fill="none"/>
<path d="M310.39 114.83H314.79M312.59 112.63V117.03M310.89 113.13L314.29 116.53M310.89 116.53L314.29 113.13" stroke="#ffff00" fill="none"/>
<path d="M313.85 141.85H318.25M316.05 139.65V144.05M314.35 140.15L317.75 143.55M314.35 143.55L317.75 140.15" stroke="#ffff00" fill="none"/>
<path d="M317.30 176.51H321.70M319.5 174.31V178.71M317.80 174.81L321.20 178.21M317.80 178.21L321.20 174.81" stroke="#ffff00" fill="none"/>
<path d="M320.75 219.93H325.15M322.95 217.73V222.13M321.25 218.23L324.65 221.63M321.25 221.63L324.65 218.23" stroke="#ffff00" fill="none"/>
<path d="M53.50 34.50L56.95 34.50L60.41 34.50L63.86 34.50L67.32 34.50L70.77 34.50L74.23 34.50L77.68 34.50L81.14 34.50L84.59 34.50L88.05 34.50L91.50 34.50L94.95 34.50L98.41 34.50L101.86 34.50L105.32 34.50L108.77 34.50L112.23 34.50L115.68 34.50L119.14 34.50L122.59 34.50L126.05 34.50L129.50 34.50L132.95 34.50L136.41 34.50L139.86 34.50L143.32 34.50L146.77 34.50L150.23 34.50L153.68 34.50L157.14 34.50L160.59 34.50L164.05 34.50L167.50 34.50L170.95 34.50L174.41 34.50L177.86 34.50L181.32 34.50L184.77 34.50L188.23 34.50L191.68 34.50L195.14 34.50L198.59 34.50L202.05 34.50L205.50 34.51L208.95 34.51L212.41 34.51L215.86 34.51L219.32 34.52L222.77 34.53L226.23 34.54L229.68 34.55L233.14 34.57L236.59 34.59L240.05 34.63L243.50 34.68L246.95 34.75L250.41 34.85L253.86 34.98L257.32 35.16L260.77 35.42L264.23 35.77L267.68 36.26L271.14 36.94L274.59 37.87L278.05 39.17L281.50 40.95L284.95 43.42L288.41 46.81L291.86 51.47L295.32 57.87L298.77 66.59L302.23 78.43L305.68 94.38L309.14 115.65L312.59 143.65L316.05 179.84L319.50 225.58L320.68 244.70" stroke="#00ffff" stroke-width="0.85"/>
<rect x="51.70" y="32.85" width="3.60" height="3.60" stroke="#00ffff" fill="none"/>
<rect x="55.15" y="32.85" width="3.60" height="3.60" stroke="#00ffff" fill="none"/>
<rect x="58.61" y="32.85" width="3.60" height="3.60" stroke="#00ffff" fill="none"/>
<rect x="62.06" y="32.85" width="3.60" height="3.60" stroke="#00ffff" fill="none"/>
<rect x="65.52" y="32.85" width="3.60" height="3.60" stroke="#00ffff" fill="none"/>
<rect x="68.97" y="32.85" width="3.60" height="3.60" stroke="#00ffff" fill="none"/>
<rect x="72.43" y="32.85" width="3.60" height="3.60" stroke="#00ffff" fill="none"/>
<rect x="75.88" y="32.85" width="3.60" height="3.60" stroke="#00ffff" fill="none"/>
<rect x="79.34" y="32.85" width="3.60" height="3.60" stroke="#00ffff" fill="none"/>
<rect x="82.79" y="32.85" width="3.60" height="3.60" stroke="#00ffff" fill="none"/>
<rect x="86.25" y="32.85" width="3.60" height="3.60" stroke="#00ffff" fill="none"/>
<rect x="89.70" y="32.85" width="3.60" height="3.60" stroke="#00ffff" fill="none"/>
<rect x="93.15" y="32.85" width="3.60" height="3.60" stroke="#00ffff" fill="none"/>
<rect x="96.61" y="32.85" width="3.60" height="3.60" stroke="#00ffff" fill="none"/>
<rect x="100.06" y="32.85" width="3.60" height="3.60" stroke="#00ffff" fill="none"/>
<rect x="103.52" y="32.85" width="3.60" height="3.60" stroke="#00ffff" fill="none"/>
<rect x="106.97" y="32.85" width="3.60" height="3.60" stroke="#00ffff" fill="none"/>
<rect x="110.43" y="32.85" width="3.60" height="3.60" stroke="#00ffff" fill="none"/>
<rect x="113.88" y="32.85" width="3.60" height="3.60" stroke="#00ffff" fill="none"/>
<rect x="117.34" y="32.85" width="3.60" height="3.60" stroke="#00ffff" fill="none"/>
<rect x="120.79" y="32.85" width="3.60" height="3.60" stroke="#00ffff" fill="none"/>
<rect x="124.25" y="32.85" width="3.60" height="3.60" stroke="#00ffff" fill="none"/>
<rect x="127.70" y="32.85" width="3.60" height="3.60" stroke="#00ffff" fill="none"/>
<rect x="131.15" y="32.85" width="3.60" height="3.60" stroke="#00ffff" fill="none"/>
<rect x="134.61" y="32.85" width="3.60" height="3.60" stroke="#00ffff" fill="none"/>
<rect x="138.06" y="32.85" width="3.60" height="3.60" stroke="#00ffff" fill="none"/>
<rect x="141.52" y="32.85" width="3.60" height="3.60" stroke="#00ffff" fill="none"/>
<rect x="144.97" y="32.85" width="3.60" height="3.60" stroke="#00ffff" fill="none"/>
<rect x="148.43" y="32.85" width="3.60" height="3.60" stroke="#00ffff" fill="none"/>
<rect x="151.88" y="32.85" width="3.60" height="3.60" stroke="#00ffff" fill="none"/>
<rect x="155.34" y="32.85" width="3.60" height="3.60" stroke="#00ffff" fill="none"/>
<rect x="158.79" y="32.85" width="3.60" height="3.60" stroke="#00ffff" fill="none"/>
<rect x="162.25" y="32.85" width="3.60" height="3.60" stroke="#00ffff" fill="none"/>
<rect x="165.70" y="32.85" width="3.60" height="3.60" stroke="#00ffff" fill="none"/>
<rect x="169.15" y="32.85" width="3.60" height="3.60" stroke="#00ffff" fill="none"/>
<rect x="172.61" y="32.85" width="3.60" height="3.60" stroke="#00ffff" fill="none"/>
<rect x="176.06" y="32.85" width="3.60" height="3.60" stroke="#00ffff" fill="none"/>
<rect x="179.52" y="32.85" width="3.60" height="3.60" stroke="#00ffff" fill="none"/>
<rect x="182.97" y="32.85" width="3.60" height="3.60" stroke="#00ffff" fill="none"/>
<rect x="186.43" y="32.85" width="3.60" height="3.60" stroke="#00ffff" fill="none"/>
<rect x="189.88" y="32.85" width="3.60" height="3.60" stroke="#00ffff" fill="none"/>
<rect x="193.34" y="32.85" width="3.60" height="3.60" stroke="#00ffff" fill="none"/>
<rect x="196.79" y="32.85" width="3.60" height="3.60" stroke="#00ffff" fill="none"/>
<rect x="200.25" y="32.85" width="3.60" height="3.60" stroke="#00ffff" fill="none"/>
<rect x="203.70" y="32.86" width="3.60" height="3.60" stroke="#00ffff" fill="none"/>
<rect x="207.15" y="32.86" width="3.60" height="3.60" stroke="#00ffff" fill="none"/>
<rect x="210.61" y="32.86" width="3.60" height="3.60" stroke="#00ffff" fill="none"/>
<rect x="214.06" y="32.86" width="3.60" height="3.60" stroke="#00ffff" fill="none"/>
<rect x="217.52" y="32.87" width="3.60" height="3.60" stroke="#00ffff" fill="none"/>
<rect x="220.97" y="32.88" width="3.60" height="3.60" stroke="#00ffff" fill="none"/>
<rect x="224.43" y="32.89" width="3.60" height="3.60" stroke="#00ffff" fill="none"/>
<rect x="227.88" y="32.90" width="3.60" height="3.60" stroke="#00ffff" fill="none"/>
<rect x="231.34" y="32.92" width="3.60" height="3.60" stroke="#00ffff" fill="none"/>
<rect x="234.79" y="32.94" width="3.60" height="3.60" stroke="#00ffff" fill="none"/>
<rect x="238.25" y="32.98" width="3.60" height="3.60" stroke="#00ffff" fill="none"/>
<rect x="241.70" y="33.03" width="3.60" height="3.60" stroke="#00ffff" fill="none"/>
<rect x="245.15" y="33.10" width="3.60" height="3.60" stroke="#00ffff" fill="none"/>
<rect x="248.61" y="33.20" width="3.60" height="3.60" stroke="#00ffff" fill="none"/>
<rect x="252.06" y="33.33" width="3.60" height="3.60" stroke="#00ffff" fill="none"/>
<rect x="255.52" y="33.51" width="3.60" height="3.60" stroke="#00ffff" fill="none"/>
<rect x="258.97" y="33.77" width="3.60" height="3.60" stroke="#00ffff" fill="none"/>
<rect x="262.43" y="34.12" width="3.60" height="3.60" stroke="#00ffff" fill="none"/>
<rect x="265.88" y="34.61" width="3.60" height="3.60" stroke="#00ffff" fill="none"/>
<rect x="269.34" y="35.29" width="3.60" height="3.60" stroke="#00ffff" fill="none"/>
<rect x="272.79" y="36.22" width="3.60" height="3.60" stroke="#00ffff" fill="none"/>
<rect x="276.25" y="37.52" width="3.60" height="3.60" stroke="#00ffff" fill="none"/>
<rect x="279.70" y="39.30" width="3.60" height="3.60" stroke="#00ffff" fill="none"/>
<rect x="283.15" y="41.77" width="3.60" height="3.60" stroke="#00ffff" fill="none"/>
<rect x="286.61" y="45.16" width="3.60" height="3.60" stroke="#00ffff" fill="none"/>
<rect x="290.06" y="49.82" width="3.60" height="3.60" stroke="#00ffff" fill="none"/>
<rect x="293.52" y="56.22" width="3.60" height="3.60" stroke="#00ffff" fill="none"/>
<rect x="296.97" y="64.94" width="3.60" height="3.60" stroke="#00ffff" fill="none"/>
<rect x="300.43" y="76.78" width="3.60" height="3.60" stroke="#00ffff" fill="none"/>
<rect x="303.88" y="92.73" width="3.60" height="3.60" stroke="#00ffff" fill="none"/>
<rect x="307.34" y="114.00" width="3.60" height="3.60" stroke="#00ffff" fill="none"/>
<rect x="310.79" y="142.00" width="3.60" height="3.60" stroke="#00ffff" fill="none"/>
<rect x="314.25" y="178.19" width="3.60" height="3.60" stroke="#00ffff" fill="none"/>
<rect x="317.70" y="223.93" width="3.60" height="3.60" stroke="#00ffff" fill="none"/>
<path d="M53.50 34.50L56.95 34.50L60.41 34.50L63.86 34.50L67.32 34.50L70.77 34.50L74.23 34.50L77.68 34.50L81.14 34.50L84.59 34.50L88.05 34.50L91.50 34.50L94.95 34.50L98.41 34.50L101.86 34.50L105.32 34.50L108.77 34.50L112.23 34.50L115.68 34.50L119.14 34.50L122.59 34.50L126.05 34.50L129.50 34.50L132.95 34.50L136.41 34.50L139.86 34.50L143.32 34.50L146.77 34.50L150.23 34.50L153.68 34.50L157.14 34.50L160.59 34.50L164.05 34.50L167.50 34.50L170.95 34.50L174.41 34.50L177.86 34.50L181.32 34.50L184.77 34.50L188.23 34.50L191.68 34.50L195.14 34.50L198.59 34.51L202.05 34.51L205.50 34.51L208.95 34.52L212.41 34.52L215.86 34.53L219.32 34.54L222.77 34.56L226.23 34.58L229.68 34.62L233.14 34.66L236.59 34.73L240.05 34.82L243.50 34.95L246.95 35.13L250.41 35.39L253.86 35.75L257.32 36.25L260.77 36.95L264.23 37.94L267.68 39.32L271.14 41.25L274.59 43.94L278.05 47.70L281.50 52.93L284.95 60.18L288.41 70.19L291.86 83.91L295.32 102.56L298.77 127.60L302.23 160.67L305.68 203.46L308.33 244.70" stroke="#ff00ff" stroke-width="0.85"/>
<rect x="51.60" y="32.25" width="3.80" height="3.80" fill="#ff00ff"/>
<rect x="55.05" y="32.25" width="3.80" height="3.80" fill="#ff00ff"/>
<rect x="58.51" y="32.25" width="3.80" height="3.80" fill="#ff00ff"/>
<rect x="61.96" y="32.25" width="3.80" height="3.80" fill="#ff00ff"/>
<rect x="65.42" y="32.25" width="3.80" height="3.80" fill="#ff00ff"/>
<rect x="68.87" y="32.25" width="3.80" height="3.80" fill="#ff00ff"/>
<rect x="72.33" y="32.25" width="3.80" height="3.80" fill="#ff00ff"/>
<rect x="75.78" y="32.25" width="3.80" height="3.80" fill="#ff00ff"/>
<rect x="79.24" y="32.25" width="3.80" height="3.80" fill="#ff00ff"/>
<rect x="82.69" y="32.25" width="3.80" height="3.80" fill="#ff00ff"/>
<rect x="86.15" y="32.25" width="3.80" height="3.80" fill="#ff00ff"/>
<rect x="89.60" y="32.25" width="3.80" height="3.80" fill="#ff00ff"/>
<rect x="93.05" y="32.25" width="3.80" height="3.80" fill="#ff00ff"/>
<rect x="96.51" y="32.25" width="3.80" height="3.80" fill="#ff00ff"/>
<rect x="99.96" y="32.25" width="3.80" height="3.80" fill="#ff00ff"/>
<rect x="103.42" y="32.25" width="3.80" height="3.80" fill="#ff00ff"/>
<rect x="106.87" y="32.25" width="3.80" height="3.80" fill="#ff00ff"/>
<rect x="110.33" y="32.25" width="3.80" height="3.80" fill="#ff00ff"/>
<rect x="113.78" y="32.25" width="3.80" height="3.80" fill="#ff00ff"/>
<rect x="117.24" y="32.25" width="3.80" height="3.80" fill="#ff00ff"/>
<rect x="120.69" y="32.25" width="3.80" height="3.80" fill="#ff00ff"/>
<rect x="124.15" y="32.25" width="3.80" height="3.80" fill="#ff00ff"/>
<rect x="127.60" y="32.25" width="3.80" height="3.80" fill="#ff00ff"/>
<rect x="131.05" y="32.25" width="3.80" height="3.80" fill="#ff00ff"/>
<rect x="134.51" y="32.25" width="3.80" height="3.80" fill="#ff00ff"/>
<rect x="137.96" y="32.25" width="3.80" height="3.80" fill="#ff00ff"/>
<rect x="141.42" y="32.25" width="3.80" height="3.80" fill="#ff00ff"/>
<rect x="144.87" y="32.25" width="3.80" height="3.80" fill="#ff00ff"/>
<rect x="148.33" y="32.25" width="3.80" height="3.80" fill="#ff00ff"/>
<rect x="151.78" y="32.25" width="3.80" height="3.80" fill="#ff00ff"/>
<rect x="155.24" y="32.25" width="3.80" height="3.80" fill="#ff00ff"/>
<rect x="158.69" y="32.25" width="3.80" height="3.80" fill="#ff00ff"/>
<rect x="162.15" y="32.25" width="3.80" height="3.80" fill="#ff00ff"/>
<rect x="165.60" y="32.25" width="3.80" height="3.80" fill="#ff00ff"/>
<rect x="169.05" y="32.25" width="3.80" height="3.80" fill="#ff00ff"/>
<rect x="172.51" y="32.25" width="3.80" height="3.80" fill="#ff00ff"/>
<rect x="175.96" y="32.25" width="3.80" height="3.80" fill="#ff00ff"/>
<rect x="179.42" y="32.25" width="3.80" height="3.80" fill="#ff00ff"/>
<rect x="182.87" y="32.25" width="3.80" height="3.80" fill="#ff00ff"/>
<rect x="186.33" y="32.25" width="3.80" height="3.80" fill="#ff00ff"/>
<rect x="189.78" y="32.25" width="3.80" height="3.80" fill="#ff00ff"/>
<rect x="193.24" y="32.25" width="3.80" height="3.80" fill="#ff00ff"/>
<rect x="196.69" y="32.26" width="3.80" height="3.80" fill="#ff00ff"/>
<rect x="200.15" y="32.26" width="3.80" height="3.80" fill="#ff00ff"/>
<rect x="203.60" y="32.26" width="3.80" height="3.80" fill="#ff00ff"/>
<rect x="207.05" y="32.27" width="3.80" height="3.80" fill="#ff00ff"/>
<rect x="210.51" y="32.27" width="3.80" height="3.80" fill="#ff00ff"/>
<rect x="213.96" y="32.28" width="3.80" height="3.80" fill="#ff00ff"/>
<rect x="217.42" y="32.29" width="3.80" height="3.80" fill="#ff00ff"/>
<rect x="220.87" y="32.31" width="3.80" height="3.80" fill="#ff00ff"/>
<rect x="224.33" y="32.33" width="3.80" height="3.80" fill="#ff00ff"/>
<rect x="227.78" y="32.37" width="3.80" height="3.80" fill="#ff00ff"/>
<rect x="231.24" y="32.41" width="3.80" height="3.80" fill="#ff00ff"/>
<rect x="234.69" y="32.48" width="3.80" height="3.80" fill="#ff00ff"/>
<rect x="238.15" y="32.57" width="3.80" height="3.80" fill="#ff00ff"/>
<rect x="241.60" y="32.70" width="3.80" height="3.80" fill="#ff00ff"/>
<rect x="245.05" y="32.88" width="3.80" height="3.80" fill="#ff00ff"/>
<rect x="248.51" y="33.14" width="3.80" height="3.80" fill="#ff00ff"/>
<rect x="251.96" y="33.50" width="3.80" height="3.80" fill="#ff00ff"/>
<rect x="255.42" y="34.00" width="3.80" height="3.80" fill="#ff00ff"/>
<rect x="258.87" y="34.70" width="3.80" height="3.80" fill="#ff00ff"/>
<rect x="262.33" y="35.69" width="3.80" height="3.80" fill="#ff00ff"/>
<rect x="265.78" y="37.07" width="3.80" height="3.80" fill="#ff00ff"/>
<rect x="269.24" y="39.00" width="3.80" height="3.80" fill="#ff00ff"/>
<rect x="272.69" y="41.69" width="3.80" height="3.80" fill="#ff00ff"/>
<rect x="276.15" y="45.45" width="3.80" height="3.80" fill="#ff00ff"/>
<rect x="279.60" y="50.68" width="3.80" height="3.80" fill="#ff00ff"/>
<rect x="283.05" y="57.93" width="3.80" height="3.80" fill="#ff00ff"/>
<rect x="286.51" y="67.94" width="3.80" height="3.80" fill="#ff00ff"/>
<rect x="289.96" y="81.66" width="3.80" height="3.80" fill="#ff00ff"/>
<rect x="293.42" y="100.31" width="3.80" height="3.80" fill="#ff00ff"/>
<rect x="296.87" y="125.35" width="3.80" height="3.80" fill="#ff00ff"/>
<rect x="300.33" y="158.42" width="3.80" height="3.80" fill="#ff00ff"/>
<rect x="303.78" y="201.21" width="3.80" height="3.80" fill="#ff00ff"/>
<path d="M53.50 34.50L56.95 34.50L60.41 34.50L63.86 34.50L67.32 34.50L70.77 34.50L74.23 34.50L77.68 34.50L81.14 34.50L84.59 34.50L88.05 34.50L91.50 34.50L94.95 34.50L98.41 34.50L101.86 34.50L105.32 34.50L108.77 34.50L112.23 34.50L115.68 34.50L119.14 34.50L122.59 34.50L126.05 34.50L129.50 34.50L132.95 34.50L136.41 34.50L139.86 34.50L143.32 34.50L146.77 34.50L150.23 34.50L153.68 34.50L157.14 34.50L160.59 34.50L164.05 34.50L167.50 34.50L170.95 34.50L174.41 34.50L177.86 34.50L181.32 34.50L184.77 34.50L188.23 34.51L191.68 34.51L195.14 34.51L198.59 34.51L202.05 34.52L205.50 34.53L208.95 34.54L212.41 34.56L215.86 34.58L219.32 34.61L222.77 34.65L226.23 34.71L229.68 34.80L233.14 34.92L236.59 35.09L240.05 35.33L243.50 35.66L246.95 36.13L250.41 36.78L253.86 37.70L257.32 38.98L260.77 40.78L264.23 43.29L267.68 46.79L271.14 51.66L274.59 58.43L278.05 67.79L281.50 80.68L284.95 98.29L288.41 122.10L291.86 153.88L295.32 195.53L298.50 244.70" stroke="#0000ff" stroke-width="0.85"/>
<circle cx="53.5" cy="34.5" r="1.80" stroke="#0000ff" fill="none"/>
<circle cx="56.95" cy="34.5" r="1.80" stroke="#0000ff" fill="none"/>
<circle cx="60.41" cy="34.5" r="1.80" stroke="#0000ff" fill="none"/>
<circle cx="63.86" cy="34.5" r="1.80" stroke="#0000ff" fill="none"/>
<circle cx="67.32" cy="34.5" r="1.80" stroke="#0000ff" fill="none"/>
<circle cx="70.77" cy="34.5" r="1.80" stroke="#0000ff" fill="none"/>
<circle cx="74.23" cy="34.5" r="1.80" stroke="#0000ff" fill="none"/>
<circle cx="77.68" cy="34.5" r="1.80" stroke="#0000ff" fill="none"/>
<circle cx="81.14" cy="34.5" r="1.80" stroke="#0000ff" fill="none"/>
<circle cx="84.59" cy="34.5" r="1.80" stroke="#0000ff" fill="none"/>
<circle cx="88.05" cy="34.5" r="1.80" stroke="#0000ff" fill="none"/>
<circle cx="91.5" cy="34.5" r="1.80" stroke="#0000ff" fill="none"/>
<circle cx="94.95" cy="34.5" r="1.80" stroke="#0000ff" fill="none"/>
<circle cx="98.41" cy="34.5" r="1.80" stroke="#0000ff" fill="none"/>
<circle cx="101.86" cy="34.5" r="1.80" stroke="#0000ff" fill="none"/>
<circle cx="105.32" cy="34.5" r="1.80" stroke="#0000ff" fill="none"/>
<circle cx="108.77" cy="34.5" r="1.80" stroke="#0000ff" fill="none"/>
<circle cx="112.23" cy="34.5" r="1.80" stroke="#0000ff" fill="none"/>
<circle cx="115.68" cy="34.5" r="1.80" stroke="#0000ff" fill="none"/>
<circle cx="119.14" cy="34.5" r="1.80" stroke="#0000ff" fill="none"/>
<circle cx="122.59" cy="34.5" r="1.80" stroke="#0000ff" fill="none"/>
<circle cx="126.05" cy="34.5" r="1.80" stroke="#0000ff" fill="none"/>
<circle cx="129.5" cy="34.5" r="1.80" stroke="#0000ff" fill="none"/>
<circle cx="132.95" cy="34.5" r="1.80" stroke="#0000ff" fill="none"/>
<circle cx="136.41" cy="34.5" r="1.80" stroke="#0000ff" fill="none"/>
<circle cx="139.86" cy="34.5" r="1.80" stroke="#0000ff" fill="none"/>
<circle cx="143.32" cy="34.5" r="1.80" stroke="#0000ff" fill="none"/>
<circle cx="146.77" cy="34.5" r="1.80" stroke="#0000ff" fill="none"/>
<circle cx="150.23" cy="34.5" r="1.80" stroke="#0000ff" fill="none"/>
<circle cx="153.68" cy="34.5" r="1.80" stroke="#0000ff" fill="none"/>
<circle cx="157.14" cy="34.5" r="1.80" stroke="#0000ff" fill="none"/>
<circle cx="160.59" cy="34.5" r="1.80" stroke="#0000ff" fill="none"/>
<circle cx="164.05" cy="34.5" r="1.80" stroke="#0000ff" fill="none"/>
<circle cx="167.5" cy="34.5" r="1.80" stroke="#0000ff" fill="none"/>
<circle cx="170.95" cy="34.5" r="1.80" stroke="#0000ff" fill="none"/>
<circle cx="174.41" cy="34.5" r="1.80" stroke="#0000ff" fill="none"/>
<circle cx="177.86" cy="34.5" r="1.80" stroke="#0000ff" fill="none"/>
<circle cx="181.32" cy="34.5" r="1.80" stroke="#0000ff" fill="none"/>
<circle cx="184.77" cy="34.5" r="1.80" stroke="#0000ff" fill="none"/>
<circle cx="188.23" cy="34.51" r="1.80" stroke="#0000ff" fill="none"/>
<circle cx="191.68" cy="34.51" r="1.80" stroke="#0000ff" fill="none"/>
<circle cx="195.14" cy="34.51" r="1.80" stroke="#0000ff" fill="none"/>
<circle cx="198.59" cy="34.51" r="1.80" stroke="#0000ff" fill="none"/>
<circle cx="202.05" cy="34.52" r="1.80" stroke="#0000ff" fill="none"/>
<circle cx="205.5" cy="34.53" r="1.80" stroke="#0000ff" fill="none"/>
<circle cx="208.95" cy="34.54" r="1.80" stroke="#0000ff" fill="none"/>
<circle cx="212.41" cy="34.56" r="1.80" stroke="#0000ff" fill="none"/>
<circle cx="215.86" cy="34.58" r="1.80" stroke="#0000ff" fill="none"/>
<circle cx="219.32" cy="34.61" r="1.80" stroke="#0000ff" fill="none"/>
<circle cx="222.77" cy="34.65" r="1.80" stroke="#0000ff" fill="none"/>
<circle cx="226.23" cy="34.71" r="1.80" stroke="#0000ff" fill="none"/>
<circle cx="229.68" cy="34.8" r="1.80" stroke="#0000ff" fill="none"/>
<circle cx="233.14" cy="34.92" r="1.80" stroke="#0000ff" fill="none"/>
<circle cx="236.59" cy="35.09" r="1.80" stroke="#0000ff" fill="none"/>
<circle cx="240.05" cy="35.33" r="1.80" stroke="#0000ff" fill="none"/>
<circle cx="243.5" cy="35.66" r="1.80" stroke="#0000ff" fill="none"/>
<circle cx="246.95" cy="36.13" r="1.80" stroke="#0000ff" fill="none"/>
<circle cx="250.41" cy="36.78" r="1.80" stroke="#0000ff" fill="none"/>
<circle cx="253.86" cy="37.7" r="1.80" stroke="#0000ff" fill="none"/>
<circle cx="257.32" cy="38.98" r="1.80" stroke="#0000ff" fill="none"/>
<circle cx="260.77" cy="40.78" r="1.80" stroke="#0000ff" fill="none"/>
<circle cx="264.23" cy="43.29" r="1.80" stroke="#0000ff" fill="none"/>
<circle cx="267.68" cy="46.79" r="1.80" stroke="#0000ff" fill="none"/>
<circle cx="271.14" cy="51.66" r="1.80" stroke="#0000ff" fill="none"/>
<circle cx="274.59" cy="58.43" r="1.80" stroke="#0000ff" fill="none"/>
<circle cx="278.05" cy="67.79" r="1.80" stroke="#0000ff" fill="none"/>
<circle cx="281.5" cy="80.68" r="1.80" stroke="#0000ff" fill="none"/>
<circle cx="284.95" cy="98.29" r="1.80" stroke="#0000ff" fill="none"/>
<circle cx="288.41" cy="122.1" r="1.80" stroke="#0000ff" fill="none"/>
<circle cx="291.86" cy="153.88" r="1.80" stroke="#0000ff" fill="none"/>
<circle cx="295.32" cy="195.53" r="1.80" stroke="#0000ff" fill="none"/>
<path d="M53.50 34.50L56.95 34.50L60.41 34.50L63.86 34.50L67.32 34.50L70.77 34.50L74.23 34.50L77.68 34.50L81.14 34.50L84.59 34.50L88.05 34.50L91.50 34.50L94.95 34.50L98.41 34.50L101.86 34.50L105.32 34.50L108.77 34.50L112.23 34.50L115.68 34.50L119.14 34.50L122.59 34.50L126.05 34.50L129.50 34.50L132.95 34.50L136.41 34.50L139.86 34.50L143.32 34.50L146.77 34.50L150.23 34.50L153.68 34.50L157.14 34.50L160.59 34.50L164.05 34.50L167.50 34.50L170.95 34.50L174.41 34.50L177.86 34.50L181.32 34.51L184.77 34.51L188.23 34.51L191.68 34.52L195.14 34.52L198.59 34.53L202.05 34.55L205.50 34.57L208.95 34.60L212.41 34.64L215.86 34.70L219.32 34.78L222.77 34.89L226.23 35.05L229.68 35.28L233.14 35.60L236.59 36.05L240.05 36.69L243.50 37.59L246.95 38.86L250.41 40.65L253.86 43.16L257.32 46.69L260.77 51.62L264.23 58.50L267.68 68.05L271.14 81.20L274.59 99.13L278.05 123.27L281.50 155.19L284.95 196.41L288.19 244.70" stroke="#00ff00" stroke-width="0.85"/>
<circle cx="53.5" cy="34.5" r="2.1" fill="#00ff00"/>
<circle cx="56.95" cy="34.5" r="2.1" fill="#00ff00"/>
<circle cx="60.41" cy="34.5" r="2.1" fill="#00ff00"/>
<circle cx="63.86" cy="34.5" r="2.1" fill="#00ff00"/>
<circle cx="67.32" cy="34.5" r="2.1" fill="#00ff00"/>
<circle cx="70.77" cy="34.5" r="2.1" fill="#00ff00"/>
<circle cx="74.23" cy="34.5" r="2.1" fill="#00ff00"/>
<circle cx="77.68" cy="34.5" r="2.1" fill="#00ff00"/>
<circle cx="81.14" cy="34.5" r="2.1" fill="#00ff00"/>
<circle cx="84.59" cy="34.5" r="2.1" fill="#00ff00"/>
<circle cx="88.05" cy="34.5" r="2.1" fill="#00ff00"/>
<circle cx="91.5" cy="34.5" r="2.1" fill="#00ff00"/>
<circle cx="94.95" cy="34.5" r="2.1" fill="#00ff00"/>
<circle cx="98.41" cy="34.5" r="2.1" fill="#00ff00"/>
<circle cx="101.86" cy="34.5" r="2.1" fill="#00ff00"/>
<circle cx="105.32" cy="34.5" r="2.1" fill="#00ff00"/>
<circle cx="108.77" cy="34.5" r="2.1" fill="#00ff00"/>
<circle cx="112.23" cy="34.5" r="2.1" fill="#00ff00"/>
<circle cx="115.68" cy="34.5" r="2.1" fill="#00ff00"/>
<circle cx="119.14" cy="34.5" r="2.1" fill="#00ff00"/>
<circle cx="122.59" cy="34.5" r="2.1" fill="#00ff00"/>
<circle cx="126.05" cy="34.5" r="2.1" fill="#00ff00"/>
<circle cx="129.5" cy="34.5" r="2.1" fill="#00ff00"/>
<circle cx="132.95" cy="34.5" r="2.1" fill="#00ff00"/>
<circle cx="136.41" cy="34.5" r="2.1" fill="#00ff00"/>
<circle cx="139.86" cy="34.5" r="2.1" fill="#00ff00"/>
<circle cx="143.32" cy="34.5" r="2.1" fill="#00ff00"/>
<circle cx="146.77" cy="34.5" r="2.1" fill="#00ff00"/>
<circle cx="150.23" cy="34.5" r="2.1" fill="#00ff00"/>
<circle cx="153.68" cy="34.5" r="2.1" fill="#00ff00"/>
<circle cx="157.14" cy="34.5" r="2.1" fill="#00ff00"/>
<circle cx="160.59" cy="34.5" r="2.1" fill="#00ff00"/>
<circle cx="164.05" cy="34.5" r="2.1" fill="#00ff00"/>
<circle cx="167.5" cy="34.5" r="2.1" fill="#00ff00"/>
<circle cx="170.95" cy="34.5" r="2.1" fill="#00ff00"/>
<circle cx="174.41" cy="34.5" r="2.1" fill="#00ff00"/>
<circle cx="177.86" cy="34.5" r="2.1" fill="#00ff00"/>
<circle cx="181.32" cy="34.51" r="2.1" fill="#00ff00"/>
<circle cx="184.77" cy="34.51" r="2.1" fill="#00ff00"/>
<circle cx="188.23" cy="34.51" r="2.1" fill="#00ff00"/>
<circle cx="191.68" cy="34.52" r="2.1" fill="#00ff00"/>
<circle cx="195.14" cy="34.52" r="2.1" fill="#00ff00"/>
<circle cx="198.59" cy="34.53" r="2.1" fill="#00ff00"/>
<circle cx="202.05" cy="34.55" r="2.1" fill="#00ff00"/>
<circle cx="205.5" cy="34.57" r="2.1" fill="#00ff00"/>
<circle cx="208.95" cy="34.6" r="2.1" fill="#00ff00"/>
<circle cx="212.41" cy="34.64" r="2.1" fill="#00ff00"/>
<circle cx="215.86" cy="34.7" r="2.1" fill="#00ff00"/>
<circle cx="219.32" cy="34.78" r="2.1" fill="#00ff00"/>
<circle cx="222.77" cy="34.89" r="2.1" fill="#00ff00"/>
<circle cx="226.23" cy="35.05" r="2.1" fill="#00ff00"/>
<circle cx="229.68" cy="35.28" r="2.1" fill="#00ff00"/>
<circle cx="233.14" cy="35.6" r="2.1" fill="#00ff00"/>
<circle cx="236.59" cy="36.05" r="2.1" fill="#00ff00"/>
<circle cx="240.05" cy="36.69" r="2.1" fill="#00ff00"/>
<circle cx="243.5" cy="37.59" r="2.1" fill="#00ff00"/>
<circle cx="246.95" cy="38.86" r="2.1" fill="#00ff00"/>
<circle cx="250.41" cy="40.65" r="2.1" fill="#00ff00"/>
<circle cx="253.86" cy="43.16" r="2.1" fill="#00ff00"/>
<circle cx="257.32" cy="46.69" r="2.1" fill="#00ff00"/>
<circle cx="260.77" cy="51.62" r="2.1" fill="#00ff00"/>
<circle cx="264.23" cy="58.5" r="2.1" fill="#00ff00"/>
<circle cx="267.68" cy="68.05" r="2.1" fill="#00ff00"/>
<circle cx="271.14" cy="81.2" r="2.1" fill="#00ff00"/>
<circle cx="274.59" cy="99.13" r="2.1" fill="#00ff00"/>
<circle cx="278.05" cy="123.27" r="2.1" fill="#00ff00"/>
<circle cx="281.5" cy="155.19" r="2.1" fill="#00ff00"/>
<circle cx="284.95" cy="196.41" r="2.1" fill="#00ff00"/>
<path d="M53.50 34.50L56.95 34.50L60.41 34.50L63.86 34.50L67.32 34.50L70.77 34.50L74.23 34.50L77.68 34.50L81.14 34.50L84.59 34.50L88.05 34.50L91.50 34.50L94.95 34.50L98.41 34.50L101.86 34.50L105.32 34.50L108.77 34.50L112.23 34.50L115.68 34.50L119.14 34.50L122.59 34.50L126.05 34.50L129.50 34.50L132.95 34.50L136.41 34.50L139.86 34.50L143.32 34.50L146.77 34.50L150.23 34.50L153.68 34.50L157.14 34.50L160.59 34.50L164.05 34.50L167.50 34.50L170.95 34.51L174.41 34.51L177.86 34.51L181.32 34.52L184.77 34.52L188.23 34.53L191.68 34.55L195.14 34.56L198.59 34.59L202.05 34.62L205.50 34.67L208.95 34.74L212.41 34.83L215.86 34.96L219.32 35.14L222.77 35.39L226.23 35.74L229.68 36.22L233.14 36.89L236.59 37.83L240.05 39.13L243.50 40.93L246.95 43.43L250.41 46.89L253.86 51.68L257.32 58.27L260.77 67.34L264.23 79.75L267.68 96.60L271.14 119.28L274.59 149.47L278.05 188.99L281.50 239.68L281.77 244.70" stroke="#ff0000" stroke-width="0.85"/>
<path d="M53.5 32.40L55.40 35.45H51.60Z" stroke="#ff0000" fill="#ff0000" fill-opacity="0.35"/>
<path d="M56.95 32.40L58.85 35.45H55.05Z" stroke="#ff0000" fill="#ff0000" fill-opacity="0.35"/>
<path d="M60.41 32.40L62.31 35.45H58.51Z" stroke="#ff0000" fill="#ff0000" fill-opacity="0.35"/>
<path d="M63.86 32.40L65.76 35.45H61.96Z" stroke="#ff0000" fill="#ff0000" fill-opacity="0.35"/>
<path d="M67.32 32.40L69.22 35.45H65.42Z" stroke="#ff0000" fill="#ff0000" fill-opacity="0.35"/>
<path d="M70.77 32.40L72.67 35.45H68.87Z" stroke="#ff0000" fill="#ff0000" fill-opacity="0.35"/>
<path d="M74.23 32.40L76.13 35.45H72.33Z" stroke="#ff0000" fill="#ff0000" fill-opacity="0.35"/>
<path d="M77.68 32.40L79.58 35.45H75.78Z" stroke="#ff0000" fill="#ff0000" fill-opacity="0.35"/>
<path d="M81.14 32.40L83.04 35.45H79.24Z" stroke="#ff0000" fill="#ff0000" fill-opacity="0.35"/>
<path d="M84.59 32.40L86.49 35.45H82.69Z" stroke="#ff0000" fill="#ff0000" fill-opacity="0.35"/>
<path d="M88.05 32.40L89.95 35.45H86.15Z" stroke="#ff0000" fill="#ff0000" fill-opacity="0.35"/>
<path d="M91.5 32.40L93.40 35.45H89.60Z" stroke="#ff0000" fill="#ff0000" fill-opacity="0.35"/>
<path d="M94.95 32.40L96.85 35.45H93.05Z" stroke="#ff0000" fill="#ff0000" fill-opacity="0.35"/>
<path d="M98.41 32.40L100.31 35.45H96.51Z" stroke="#ff0000" fill="#ff0000" fill-opacity="0.35"/>
<path d="M101.86 32.40L103.76 35.45H99.96Z" stroke="#ff0000" fill="#ff0000" fill-opacity="0.35"/>
<path d="M105.32 32.40L107.22 35.45H103.42Z" stroke="#ff0000" fill="#ff0000" fill-opacity="0.35"/>
<path d="M108.77 32.40L110.67 35.45H106.87Z" stroke="#ff0000" fill="#ff0000" fill-opacity="0.35"/>
<path d="M112.23 32.40L114.13 35.45H110.33Z" stroke="#ff0000" fill="#ff0000" fill-opacity="0.35"/>
<path d="M115.68 32.40L117.58 35.45H113.78Z" stroke="#ff0000" fill="#ff0000" fill-opacity="0.35"/>
<path d="M119.14 32.40L121.04 35.45H117.24Z" stroke="#ff0000" fill="#ff0000" fill-opacity="0.35"/>
<path d="M122.59 32.40L124.49 35.45H120.69Z" stroke="#ff0000" fill="#ff0000" fill-opacity="0.35"/>
<path d="M126.05 32.40L127.95 35.45H124.15Z" stroke="#ff0000" fill="#ff0000" fill-opacity="0.35"/>
<path d="M129.5 32.40L131.40 35.45H127.60Z" stroke="#ff0000" fill="#ff0000" fill-opacity="0.35"/>
<path d="M132.95 32.40L134.85 35.45H131.05Z" stroke="#ff0000" fill="#ff0000" fill-opacity="0.35"/>
<path d="M136.41 32.40L138.31 35.45H134.51Z" stroke="#ff0000" fill="#ff0000" fill-opacity="0.35"/>
<path d="M139.86 32.40L141.76 35.45H137.96Z" stroke="#ff0000" fill="#ff0000" fill-opacity="0.35"/>
<path d="M143.32 32.40L145.22 35.45H141.42Z" stroke="#ff0000" fill="#ff0000" fill-opacity="0.35"/>
<path d="M146.77 32.40L148.67 35.45H144.87Z" stroke="#ff0000" fill="#ff0000" fill-opacity="0.35"/>
<path d="M150.23 32.40L152.13 35.45H148.33Z" stroke="#ff0000" fill="#ff0000" fill-opacity="0.35"/>
<path d="M153.68 32.40L155.58 35.45H151.78Z" stroke="#ff0000" fill="#ff0000" fill-opacity="0.35"/>
<path d="M157.14 32.40L159.04 35.45H155.24Z" stroke="#ff0000" fill="#ff0000" fill-opacity="0.35"/>
<path d="M160.59 32.40L162.49 35.45H158.69Z" stroke="#ff0000" fill="#ff0000" fill-opacity="0.35"/>
<path d="M164.05 32.40L165.95 35.45H162.15Z" stroke="#ff0000" fill="#ff0000" fill-opacity="0.35"/>
<path d="M167.5 32.40L169.40 35.45H165.60Z" stroke="#ff0000" fill="#ff0000" fill-opacity="0.35"/>
<path d="M170.95 32.41L172.85 35.46H169.05Z" stroke="#ff0000" fill="#ff0000" fill-opacity="0.35"/>
<path d="M174.41 32.41L176.31 35.46H172.51Z" stroke="#ff0000" fill="#ff0000" fill-opacity="0.35"/>
<path d="M177.86 32.41L179.76 35.46H175.96Z" stroke="#ff0000" fill="#ff0000" fill-opacity="0.35"/>
<path d="M181.32 32.42L183.22 35.47H179.42Z" stroke="#ff0000" fill="#ff0000" fill-opacity="0.35"/>
<path d="M184.77 32.42L186.67 35.47H182.87Z" stroke="#ff0000" fill="#ff0000" fill-opacity="0.35"/>
<path d="M188.23 32.43L190.13 35.48H186.33Z" stroke="#ff0000" fill="#ff0000" fill-opacity="0.35"/>
<path d="M191.68 32.45L193.58 35.50H189.78Z" stroke="#ff0000" fill="#ff0000" fill-opacity="0.35"/>
<path d="M195.14 32.46L197.04 35.51H193.24Z" stroke="#ff0000" fill="#ff0000" fill-opacity="0.35"/>
<path d="M198.59 32.49L200.49 35.54H196.69Z" stroke="#ff0000" fill="#ff0000" fill-opacity="0.35"/>
<path d="M202.05 32.52L203.95 35.57H200.15Z" stroke="#ff0000" fill="#ff0000" fill-opacity="0.35"/>
<path d="M205.5 32.57L207.40 35.62H203.60Z" stroke="#ff0000" fill="#ff0000" fill-opacity="0.35"/>
<path d="M208.95 32.64L210.85 35.69H207.05Z" stroke="#ff0000" fill="#ff0000" fill-opacity="0.35"/>
<path d="M212.41 32.73L214.31 35.78H210.51Z" stroke="#ff0000" fill="#ff0000" fill-opacity="0.35"/>
<path d="M215.86 32.86L217.76 35.91H213.96Z" stroke="#ff0000" fill="#ff0000" fill-opacity="0.35"/>
<path d="M219.32 33.04L221.22 36.09H217.42Z" stroke="#ff0000" fill="#ff0000" fill-opacity="0.35"/>
<path d="M222.77 33.29L224.67 36.34H220.87Z" stroke="#ff0000" fill="#ff0000" fill-opacity="0.35"/>
<path d="M226.23 33.64L228.13 36.69H224.33Z" stroke="#ff0000" fill="#ff0000" fill-opacity="0.35"/>
<path d="M229.68 34.12L231.58 37.17H227.78Z" stroke="#ff0000" fill="#ff0000" fill-opacity="0.35"/>
<path d="M233.14 34.79L235.04 37.84H231.24Z" stroke="#ff0000" fill="#ff0000" fill-opacity="0.35"/>
<path d="M236.59 35.73L238.49 38.78H234.69Z" stroke="#ff0000" fill="#ff0000" fill-opacity="0.35"/>
<path d="M240.05 37.03L241.95 40.08H238.15Z" stroke="#ff0000" fill="#ff0000" fill-opacity="0.35"/>
<path d="M243.5 38.83L245.40 41.88H241.60Z" stroke="#ff0000" fill="#ff0000" fill-opacity="0.35"/>
<path d="M246.95 41.33L248.85 44.38H245.05Z" stroke="#ff0000" fill="#ff0000" fill-opacity="0.35"/>
<path d="M250.41 44.79L252.31 47.84H248.51Z" stroke="#ff0000" fill="#ff0000" fill-opacity="0.35"/>
<path d="M253.86 49.58L255.76 52.63H251.96Z" stroke="#ff0000" fill="#ff0000" fill-opacity="0.35"/>
<path d="M257.32 56.17L259.22 59.22H255.42Z" stroke="#ff0000" fill="#ff0000" fill-opacity="0.35"/>
<path d="M260.77 65.24L262.67 68.29H258.87Z" stroke="#ff0000" fill="#ff0000" fill-opacity="0.35"/>
<path d="M264.23 77.65L266.13 80.70H262.33Z" stroke="#ff0000" fill="#ff0000" fill-opacity="0.35"/>
<path d="M267.68 94.50L269.58 97.55H265.78Z" stroke="#ff0000" fill="#ff0000" fill-opacity="0.35"/>
<path d="M271.14 117.18L273.04 120.23H269.24Z" stroke="#ff0000" fill="#ff0000" fill-opacity="0.35"/>
<path d="M274.59 147.37L276.49 150.42H272.69Z" stroke="#ff0000" fill="#ff0000" fill-opacity="0.35"/>
<path d="M278.05 186.89L279.95 189.94H276.15Z" stroke="#ff0000" fill="#ff0000" fill-opacity="0.35"/>
<path d="M281.5 237.58L283.40 240.63H279.60Z" stroke="#ff0000" fill="#ff0000" fill-opacity="0.35"/>
</g>
<path d="M66.9 148.15H96.6" stroke="#8c8c8c" stroke-width="0.9" fill="none"/>
<text x="103.7" y="151.45" font-size="10.3">z<tspan dy="2.6" font-size="8.5">1</tspan><tspan dy="-2.6" dx="0.3" letter-spacing="0.42">=0.005</tspan></text>
<path d="M66.9 159.09H96.6" stroke="#ff4500" stroke-width="0.8" fill="none"/>
<path d="M81.6 157.09V161.09" stroke="#ff4500" fill="none" stroke-width="0.85"/>
<text x="103.7" y="162.39" font-size="10.3">z<tspan dy="2.6" font-size="8.5">1</tspan><tspan dy="-2.6" dx="0.3" letter-spacing="0.42">=0.01</tspan></text>
<path d="M66.9 170.03H96.6" stroke="#000000" stroke-width="0.8" fill="none"/>
<path d="M79.70 168.13L83.50 171.93M79.70 171.93L83.50 168.13" stroke="#000000" fill="none" stroke-width="0.85"/>
<text x="103.7" y="173.33" font-size="10.3">z<tspan dy="2.6" font-size="8.5">1</tspan><tspan dy="-2.6" dx="0.3" letter-spacing="0.42">=0.1</tspan></text>
<path d="M66.9 180.97H96.6" stroke="#ffff00" stroke-width="0.8" fill="none"/>
<path d="M79.40 180.97H83.80M81.6 178.77V183.17M79.90 179.27L83.30 182.67M79.90 182.67L83.30 179.27" stroke="#ffff00" fill="none" stroke-width="0.85"/>
<text x="103.7" y="184.27" font-size="10.3">z<tspan dy="2.6" font-size="8.5">1</tspan><tspan dy="-2.6" dx="0.3" letter-spacing="0.42">=0.15</tspan></text>
<path d="M66.9 191.91H96.6" stroke="#00ffff" stroke-width="0.8" fill="none"/>
<rect x="79.80" y="190.26" width="3.60" height="3.60" stroke="#00ffff" fill="none" stroke-width="0.85"/>
<text x="103.7" y="195.21" font-size="10.3">z<tspan dy="2.6" font-size="8.5">1</tspan><tspan dy="-2.6" dx="0.3" letter-spacing="0.42">=0.2</tspan></text>
<path d="M66.9 202.85H96.6" stroke="#ff00ff" stroke-width="0.8" fill="none"/>
<rect x="79.70" y="200.60" width="3.80" height="3.80" fill="#ff00ff"/>
<text x="103.7" y="206.15" font-size="10.3">z<tspan dy="2.6" font-size="8.5">1</tspan><tspan dy="-2.6" dx="0.3" letter-spacing="0.42">=0.5</tspan></text>
<path d="M66.9 213.79H96.6" stroke="#0000ff" stroke-width="0.8" fill="none"/>
<circle cx="81.6" cy="213.79" r="1.80" stroke="#0000ff" fill="none" stroke-width="0.85"/>
<text x="103.7" y="217.09" font-size="10.3">z<tspan dy="2.6" font-size="8.5">1</tspan><tspan dy="-2.6" dx="0.3" letter-spacing="0.42">=1</tspan></text>
<path d="M66.9 224.73H96.6" stroke="#00ff00" stroke-width="0.8" fill="none"/>
<circle cx="81.6" cy="224.73" r="2.1" fill="#00ff00"/>
<text x="103.7" y="228.03" font-size="10.3">z<tspan dy="2.6" font-size="8.5">1</tspan><tspan dy="-2.6" dx="0.3" letter-spacing="0.42">=2</tspan></text>
<path d="M66.9 235.67H96.6" stroke="#ff0000" stroke-width="0.8" fill="none"/>
<path d="M81.6 233.57L83.50 236.62H79.70Z" stroke="#ff0000" fill="#ff0000" fill-opacity="0.35"/>
<text x="103.7" y="238.97" font-size="10.3">z<tspan dy="2.6" font-size="8.5">1</tspan><tspan dy="-2.6" dx="0.3" letter-spacing="0.42">=3</tspan></text>
<rect x="53.5" y="13.0" width="342.0" height="231.7" stroke="#161616" stroke-width="1" fill="none"/>
</svg></body></html>
